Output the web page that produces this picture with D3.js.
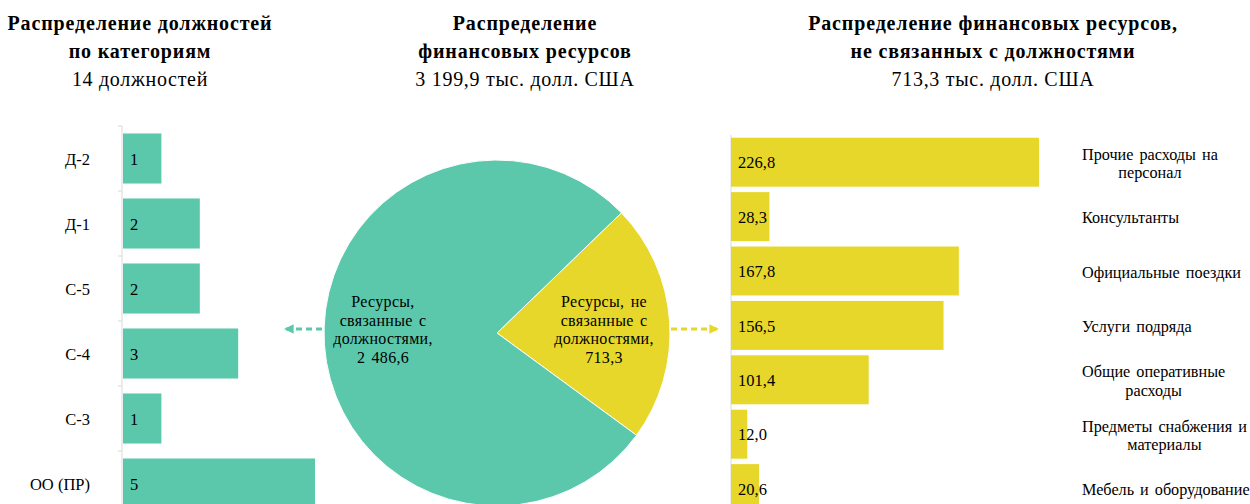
<!DOCTYPE html>
<html>
<head>
<meta charset="utf-8">
<script src="https://cdn.jsdelivr.net/npm/d3@7"></script>
<style>
  body { margin: 0; background: #fff; }
</style>
</head>
<body>
<svg width="1250" height="504"></svg>
<script>
// данные
const postCategories = ["Д-2", "Д-1", "С-5", "С-4", "С-3", "ОО (ПР)"];
const postCounts = [1, 2, 2, 3, 1, 5];

const pieValues = [713.3, 2486.6];

const nonPostCategories = [
    ["Прочие расходы на", "персонал"],
    ["Консультанты"],
    ["Официальные  поездки"],
    ["Услуги  подряда"],
    ["Общие оперативные", "расходы"],
    ["Предметы снабжения и", "материалы"],
    ["Мебель и оборудование"]
];
const nonPostValues = [226.8, 28.3, 167.8, 156.5, 101.4, 12.0, 20.6];

const titles = [
    { x: 140, lines: ["Распределение должностей", "по категориям"], sub: "14 должностей" },
    { x: 525, lines: ["Распределение", "финансовых ресурсов"], sub: "3 199,9 тыс. долл. США" },
    { x: 993, lines: ["Распределение финансовых ресурсов,", "не связанных с должностями"], sub: "713,3 тыс. долл. США" }
];

const green = "#5bc8ac";
const yellow = "#e6d72a";
const FONT = '"Liberation Serif", "Times New Roman", serif';

const ru = d3.formatLocale({ decimal: ",", thousands: " ", grouping: [3], currency: ["", ""] });
const fmt1 = ru.format(",.1f");

const svg = d3.select("svg").style("font-family", FONT);

function txt(parent) {
    return parent.append("text").style("font-family", FONT);
}

// Заголовки
titles.forEach(function(t) {
    const g = svg.append("g").attr("text-anchor", "middle");
    t.lines.forEach(function(line, i) {
        txt(g)
            .attr("x", t.x).attr("y", 29.5 + i * 28.5)
            .attr("font-size", 20).attr("font-weight", "bold")
            .attr("letter-spacing", 0.85)
            .text(line);
    });
    txt(g)
        .attr("x", t.x).attr("y", 85.5)
        .attr("font-size", 20)
        .attr("letter-spacing", 0.7)
        .text(t.sub);
});

// Левая диаграмма: должности
const yLeft = d3.scaleBand()
    .domain(postCategories)
    .range([126, 516])
    .paddingInner(0.23)
    .paddingOuter(0.115);

const xLeft = d3.scaleLinear()
    .domain([0, 5])
    .range([123, 315]);

const left = svg.append("g");

left.append("line")
    .attr("x1", 122).attr("x2", 122)
    .attr("y1", 126).attr("y2", 504)
    .attr("stroke", "#d9d9d9");

postCategories.forEach(function(c, i) {
    const yy = 126 + i * yLeft.step();
    left.append("line")
        .attr("x1", 118).attr("x2", 122)
        .attr("y1", yy).attr("y2", yy)
        .attr("stroke", "#d9d9d9");
});

left.selectAll("rect")
    .data(postCategories)
    .enter()
    .append("rect")
    .attr("x", xLeft(0))
    .attr("y", d => yLeft(d))
    .attr("width", (d, i) => xLeft(postCounts[i]) - xLeft(0))
    .attr("height", yLeft.bandwidth())
    .attr("fill", green);

postCategories.forEach(function(d, i) {
    const yy = yLeft(d) + yLeft.bandwidth() / 2 + 0.5;
    txt(left)
        .attr("x", 90).attr("y", yy).attr("dy", "0.35em")
        .attr("text-anchor", "end")
        .attr("font-size", 16.5)
        .text(d);
    txt(left)
        .attr("x", 130).attr("y", yy).attr("dy", "0.35em")
        .attr("font-size", 16.5)
        .text(postCounts[i]);
});

// Круговая диаграмма
const cx = 497, cy = 333, r = 173;
const pie = d3.pie()
    .sort(null)
    .startAngle(46 * Math.PI / 180)
    .endAngle(406 * Math.PI / 180);
const arc = d3.arc().innerRadius(0).outerRadius(r);
const arcs = pie(pieValues);

const pg = svg.append("g").attr("transform", `translate(${cx},${cy})`);
pg.selectAll("path")
    .data(arcs)
    .enter()
    .append("path")
    .attr("d", arc)
    .attr("fill", (d, i) => i === 0 ? yellow : green)
    .attr("stroke", "#fff")
    .attr("stroke-width", 1);

const pieText = [
    { x: 604, lines: ["Ресурсы, не", "связанные с", "должностями,", fmt1(pieValues[0])] },
    { x: 383, lines: ["Ресурсы,", "связанные с", "должностями,", fmt1(pieValues[1])] }
];
pieText.forEach(function(p) {
    p.lines.forEach(function(line, i) {
        txt(svg)
            .attr("x", p.x).attr("y", 307 + i * 18.7)
            .attr("text-anchor", "middle")
            .attr("font-size", 16)
            .attr("letter-spacing", 0.3)
            .attr("word-spacing", 2)
            .text(line);
    });
});

// Стрелки
const defs = svg.append("defs");
[["arrG", green], ["arrY", yellow]].forEach(function(a) {
    defs.append("marker")
        .attr("id", a[0])
        .attr("viewBox", "0 0 10 10")
        .attr("refX", 9).attr("refY", 5)
        .attr("markerWidth", 3.2).attr("markerHeight", 3.2)
        .attr("orient", "auto")
        .append("path")
        .attr("d", "M0,0L10,5L0,10Z")
        .attr("fill", a[1]);
});
svg.append("line")
    .attr("x1", 322).attr("x2", 285)
    .attr("y1", 329).attr("y2", 329)
    .attr("stroke", green).attr("stroke-width", 3)
    .attr("stroke-dasharray", "6,4")
    .attr("marker-end", "url(#arrG)");
svg.append("line")
    .attr("x1", 671).attr("x2", 718)
    .attr("y1", 329).attr("y2", 329)
    .attr("stroke", yellow).attr("stroke-width", 3)
    .attr("stroke-dasharray", "6,4")
    .attr("marker-end", "url(#arrY)");

// Правая диаграмма: ресурсы, не связанные с должностями
const idx = nonPostValues.map((d, i) => i);
const yRight = d3.scaleBand()
    .domain(idx)
    .range([135, 515.8])
    .paddingInner(0.1)
    .paddingOuter(0.05);

const xRight = d3.scaleLinear()
    .domain([0, 250])
    .range([731, 1070.5]);

const right = svg.append("g");

right.append("line")
    .attr("x1", 731).attr("x2", 731)
    .attr("y1", 135).attr("y2", 504)
    .attr("stroke", "#d9d9d9");

right.selectAll("rect")
    .data(idx)
    .enter()
    .append("rect")
    .attr("x", xRight(0))
    .attr("y", d => yRight(d))
    .attr("width", d => xRight(nonPostValues[d]) - xRight(0))
    .attr("height", yRight.bandwidth())
    .attr("fill", yellow);

idx.forEach(function(i) {
    txt(right)
        .attr("x", 738)
        .attr("y", yRight(i) + yRight.bandwidth() / 2 + 0.5)
        .attr("dy", "0.35em")
        .attr("font-size", 16.5)
        .text(fmt1(nonPostValues[i]));

    const lines = nonPostCategories[i];
    const mid = yRight(i) + yRight.bandwidth() / 2 + 1;
    const y0 = mid - (lines.length - 1) * 18.5 / 2;
    const first = txt(right)
        .attr("x", 1082)
        .attr("y", y0)
        .attr("dy", "0.35em")
        .attr("font-size", 16.2)
        .attr("word-spacing", 2)
        .text(lines[0]);
    const center = 1082 + first.node().getComputedTextLength() / 2;
    lines.slice(1).forEach(function(line, j) {
        txt(right)
            .attr("x", center)
            .attr("y", y0 + (j + 1) * 18.5)
            .attr("dy", "0.35em")
            .attr("text-anchor", "middle")
            .attr("font-size", 16.2)
            .text(line);
    });
});
</script>
</body>
</html>
